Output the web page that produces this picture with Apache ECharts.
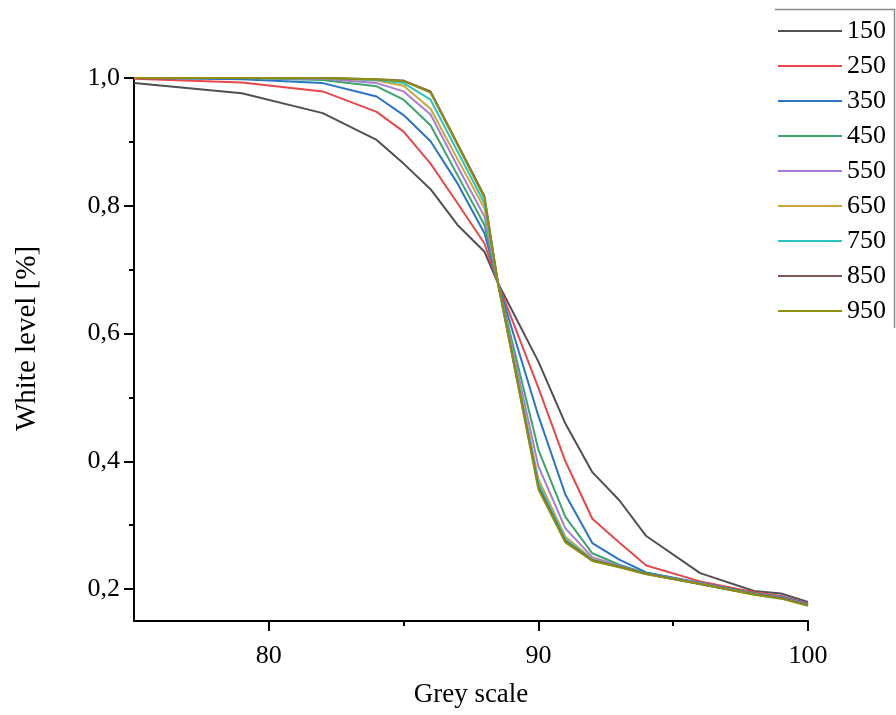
<!DOCTYPE html>
<html>
<head>
<meta charset="utf-8">
<script src="https://cdn.jsdelivr.net/npm/echarts@6/dist/echarts.min.js"></script>
<style>
 html, body { margin: 0; padding: 0; background: #fff; }
 #chart { width: 896px; height: 715px; }
</style>
</head>
<body>
<div id="chart"></div>
<script>
 // grey scale positions (x)
 var greyScale = [75, 79, 82, 84, 85, 86, 87, 88, 88.5, 90, 91, 92, 93, 94, 96, 98, 99, 100];

 // white level for each setting
 var s150 = [0.992, 0.976, 0.945, 0.903, 0.866, 0.826, 0.770, 0.728, 0.679, 0.556, 0.459, 0.383, 0.339, 0.283, 0.225, 0.197, 0.193, 0.180];
 var s250 = [0.999, 0.993, 0.979, 0.947, 0.916, 0.866, 0.804, 0.741, 0.679, 0.515, 0.400, 0.310, 0.273, 0.237, 0.212, 0.195, 0.189, 0.178];
 var s350 = [1.000, 0.998, 0.992, 0.971, 0.942, 0.901, 0.835, 0.757, 0.679, 0.471, 0.348, 0.272, 0.246, 0.226, 0.210, 0.193, 0.188, 0.177];
 var s450 = [1.000, 1.000, 0.997, 0.987, 0.966, 0.926, 0.848, 0.770, 0.679, 0.418, 0.313, 0.256, 0.238, 0.225, 0.209, 0.193, 0.187, 0.176];
 var s550 = [1.000, 1.000, 0.999, 0.992, 0.979, 0.943, 0.862, 0.783, 0.679, 0.392, 0.295, 0.250, 0.236, 0.224, 0.209, 0.192, 0.187, 0.176];
 var s650 = [1.000, 1.000, 1.000, 0.996, 0.988, 0.952, 0.873, 0.796, 0.679, 0.372, 0.282, 0.247, 0.235, 0.224, 0.208, 0.192, 0.186, 0.175];
 var s750 = [1.000, 1.000, 1.000, 0.997, 0.992, 0.966, 0.885, 0.804, 0.679, 0.366, 0.278, 0.246, 0.235, 0.224, 0.208, 0.192, 0.186, 0.175];
 var s850 = [1.000, 1.000, 1.000, 0.998, 0.996, 0.979, 0.897, 0.815, 0.679, 0.360, 0.275, 0.245, 0.235, 0.224, 0.208, 0.192, 0.186, 0.175];
 var s950 = [1.000, 1.000, 1.000, 0.998, 0.995, 0.977, 0.895, 0.812, 0.679, 0.356, 0.273, 0.244, 0.234, 0.223, 0.208, 0.191, 0.185, 0.174];

 var names = ["150", "250", "350", "450", "550", "650", "750", "850", "950"];
 var values = [s150, s250, s350, s450, s550, s650, s750, s850, s950];
 var colors = ["#515151", "#e8484c", "#2a74c8", "#3aa56c", "#a97ad6", "#c9a836", "#2cc3c4", "#7d5a5a", "#8e8e10"];

 var yTicks = [0.2, 0.4, 0.6, 0.8, 1.0];
 var yMinorTicks = [0.3, 0.5, 0.7, 0.9];
 var xTicks = [80, 90, 100];
 var xMinorTicks = [85, 95];

 var font = "'Liberation Serif', 'Times New Roman', serif";

 var series = [];
 for (var i = 0; i < names.length; i++) {
  var d = [];
  for (var j = 0; j < greyScale.length; j++) {
   d.push([greyScale[j], values[i][j]]);
  }
  series.push({
   name: names[i],
   type: 'line',
   data: d,
   symbol: 'none',
   smooth: false,
   lineStyle: { width: 2, color: colors[i] },
   itemStyle: { color: colors[i] },
   z: 10 + i
  });
 }

 var chart = echarts.init(document.getElementById("chart"));
 var option = {
  backgroundColor: '#fff',
  animation: false,
  grid: { left: 134, right: 88, top: 78, bottom: 94 },
  legend: {
   orient: 'vertical',
   left: 773,
   top: 13,
   itemWidth: 64,
   itemHeight: 14,
   itemGap: 9,
   icon: 'path://M0,0 L64,0 L64,2 L0,2 Z',
   textStyle: { fontFamily: font, fontSize: 26, color: '#000' },
   data: names
  },
  xAxis: [{
   type: 'value',
   min: 75,
   max: 100,
   name: 'Grey scale',
   nameLocation: 'middle',
   nameGap: 60,
   nameTextStyle: { fontFamily: font, fontSize: 27, color: '#000' },
   axisLine: { show: true, lineStyle: { color: '#000', width: 2 } },
   axisTick: { show: true, length: 10, lineStyle: { color: '#000', width: 2 }, customValues: xTicks },
   axisLabel: { fontFamily: font, fontSize: 26, color: '#000', margin: 22, customValues: xTicks },
   splitLine: { show: false }
  }, {
   type: 'value',
   min: 75,
   max: 100,
   position: 'bottom',
   axisLine: { show: false },
   axisTick: { show: true, length: 5, lineStyle: { color: '#000', width: 2 }, customValues: xMinorTicks },
   axisLabel: { show: false },
   splitLine: { show: false }
  }],
  yAxis: [{
   type: 'value',
   min: 0.15,
   max: 1.0,
   name: 'White level [%]',
   nameLocation: 'middle',
   nameGap: 92,
   nameTextStyle: { fontFamily: font, fontSize: 29, color: '#000', padding: [0, 0, 0, 22] },
   axisLine: { show: true, lineStyle: { color: '#000', width: 2 } },
   axisTick: { show: true, length: 10, lineStyle: { color: '#000', width: 2 }, customValues: yTicks },
   axisLabel: {
    fontFamily: font, fontSize: 26, color: '#000', margin: 14, customValues: yTicks,
    formatter: function(v) { return v.toFixed(1).replace('.', ','); }
   },
   splitLine: { show: false }
  }, {
   type: 'value',
   min: 0.15,
   max: 1.0,
   position: 'left',
   axisLine: { show: false },
   axisTick: { show: true, length: 5, lineStyle: { color: '#000', width: 2 }, customValues: yMinorTicks },
   axisLabel: { show: false },
   splitLine: { show: false }
  }],
  graphic: [{
   type: 'polyline',
   shape: { points: [[775, 9.5], [894.5, 9.5], [894.5, 328]] },
   style: { stroke: '#8a8a8a', lineWidth: 1.5, fill: null },
   silent: true
  }],
  series: series
 };
 chart.setOption(option);
</script>
</body>
</html>
